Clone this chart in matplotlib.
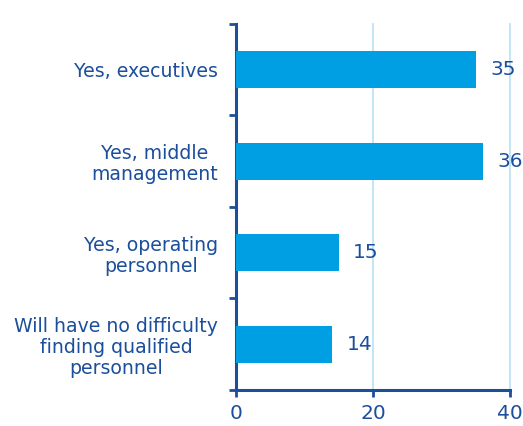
import matplotlib
matplotlib.use("Agg")
import matplotlib.pyplot as plt
import numpy as np

categories = ["Yes, executives", "Yes, middle\nmanagement", "Yes, operating\npersonnel",
              "Will have no difficulty\nfinding qualified\npersonnel"]
values = [35, 36, 15, 14]
xticks = [0, 20, 40]

dark = "#1B4F9C"
bar_c = "#009FE3"
grid_c = "#BDE3F5"

fig = plt.figure(figsize=(5.23, 4.26), dpi=100)
ax = fig.add_axes([0.4512, 0.0845, 0.975 - 0.4512, 0.9437 - 0.0845])

y = np.arange(len(categories))
ax.barh(y, values, height=0.4, color=bar_c, zorder=3)
for yi, v in zip(y, values):
    ax.annotate(str(v), (v, yi), xytext=(10.5, 0), textcoords="offset points",
                va="center", ha="left", color=dark, fontsize=14.5, annotation_clip=False)

ax.set_ylim(len(categories) - 0.5, -0.5)
ax.set_xlim(0, 40)
ax.set_xticks(xticks)
ax.set_yticks(y)
ax.set_yticklabels(categories, ha="right", multialignment="center", linespacing=1.15)
ax.set_yticks(np.arange(-0.5, len(categories), 1), minor=True)
ax.tick_params(axis="y", which="major", length=0, pad=13, labelsize=13.6, labelcolor=dark)
ax.tick_params(axis="y", which="minor", length=5, width=2, color=dark)
ax.tick_params(axis="x", length=5, width=2, color=dark, labelsize=14.5, labelcolor=dark, pad=5)

for s in ["top", "right"]:
    ax.spines[s].set_visible(False)
for s in ["left", "bottom"]:
    ax.spines[s].set_color(dark)
    ax.spines[s].set_linewidth(2.2)

ax.grid(axis="x", color=grid_c, linewidth=1.3, zorder=0)
for gl in ax.get_xgridlines():
    gl.set_clip_on(False)
ax.set_axisbelow(True)

fig.savefig("out.png", dpi=100)
